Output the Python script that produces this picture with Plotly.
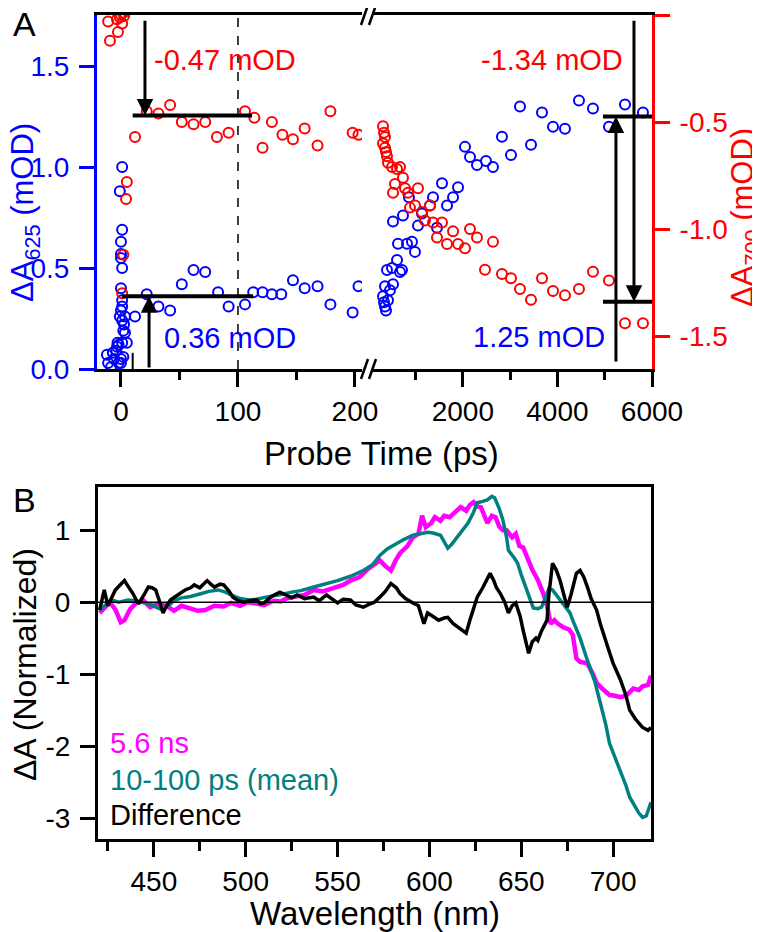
import plotly.graph_objects as go

# the page adds an 8px body margin, so the figure is drawn 8px smaller and offset
OFF = 8
W, H = 760 - OFF, 932 - OFF

# ---- panel A : kinetics, 0-200 ps segment ----
t_blue_early = [-12, -11, -8.5, -7, -6, -4, -3.4, -3, -2, -2, 0, 0, 1, 2, 2, 3.4, 2.6, -1, 3.4, 1, 1, 5,
                0, 1, 0, 1, 0, 0, 0, 1, -1, 1, 12,
                22, 32, 42, 52, 62, 72, 83, 92, 106, 113, 121, 129, 137, 147, 157, 168, 179, 198, 203]
a625_early = [0.07, 0.03, 0.01, 0.08, 0.05, 0.09, 0.11, 0.13, 0.12, 0.03, 0.03, 0.05, 0.13, 0.06, 0.19, 0.18, 0.22, 0.26, 0.26, 0.31, 0.24, 0.13,
              0.29, 0.34, 0.40, 0.50, 0.55, 0.57, 0.63, 0.69, 0.88, 1.00, 0.26,
              0.37, 0.31, 0.29, 0.42, 0.49, 0.48, 0.38, 0.31, 0.32, 0.38, 0.38, 0.37, 0.37, 0.44, 0.40, 0.41, 0.32, 0.28, 0.41]

t_red_early = [-11, -9.4, -3.4, -2.6, -1, 1, 2, 0, 2.6, 1, 2, 4.3, 5, 12,
               22, 32, 42, 52, 62, 72, 82, 92, 106, 114, 121, 129, 138, 147, 157, 168, 179, 198, 203]
a700_early = [-0.03, -0.12, -0.02, -0.08, -0.01, -0.04, 0.01, 0.0, -0.005, -1.30, -1.12, -0.86, -0.78, -0.57,
              -0.45, -0.46, -0.42, -0.50, -0.51, -0.50, -0.57, -0.55, -0.45, -0.48, -0.62, -0.50, -0.56, -0.58, -0.53, -0.61, -0.45, -0.55, -0.56]

# ---- panel A : kinetics, 200-6000 ps segment ----
t_blue_late = [313, 355, 355, 334, 376, 418, 460, 524, 397, 503, 609, 672, 714, 630, 820, 925, 989, 524, 735, 1052,
               1137, 1306, 1454, 1666, 1793, 862, 1370, 1560, 1899, 2046, 2152, 2300, 2490, 2638, 2828, 3019,
               3209, 3442, 3674, 3907, 4160, 4456, 4752, 5090, 5429, 5809]
a625_late = [0.36, 0.41, 0.31, 0.33, 0.29, 0.34, 0.39, 0.42, 0.49, 0.50, 0.54, 0.48, 0.49, 0.62, 0.62, 0.63, 0.58, 0.73, 0.76, 0.71,
             0.77, 0.81, 0.70, 0.81, 0.85, 0.85, 0.85, 0.92, 0.90, 1.10, 1.05, 1.01, 1.03, 1.00, 1.15, 1.06,
             1.30, 1.11, 1.27, 1.20, 1.19, 1.33, 1.29, 1.20, 1.31, 1.27]

t_red_late = [313, 334, 355, 313, 355, 376, 397, 418, 503, 609, 672, 735, 566, 524, 778, 841, 1052, 989, 883, 1137,
              1306, 1200, 1370, 1560, 1454, 1666, 1793, 1899, 2046, 2152, 2300, 2638, 2469, 2828, 3019, 3209,
              3442, 3674, 3907, 4160, 4456, 4752, 5090, 5429, 5809]
a700_late = [-0.52, -0.55, -0.57, -0.60, -0.62, -0.64, -0.66, -0.69, -0.71, -0.72, -0.71, -0.76, -0.79, -0.83, -0.81, -0.83, -0.81, -0.89, -0.90, -0.92,
             -0.89, -0.96, -0.97, -0.97, -1.04, -1.07, -1.01, -1.07, -1.09, -1.00, -1.04, -1.06, -1.19, -1.21, -1.23, -1.28,
             -1.33, -1.23, -1.29, -1.31, -1.28, -1.20, -1.24, -1.44, -1.44]

# ---- panel B : spectra ----
wl_56ns = [420.5, 423, 426, 429, 432, 434, 437, 440, 444, 448, 452, 457, 461, 465, 469, 474, 478, 483, 488, 492,
           497, 501, 506, 510, 515, 519, 522, 527, 532, 537, 542, 548, 553, 557, 562, 566, 570, 573, 576, 579,
           582, 584, 588, 591, 594, 596, 598, 601, 603, 606, 608, 611, 614, 617, 620, 622, 624, 626, 628, 630,
           631.5, 634, 636, 638, 640, 642, 645, 647, 649, 651, 653, 654, 656, 659, 661, 662, 664, 665, 666, 668,
           670, 673, 676, 678, 680, 682, 686, 689, 691, 694, 698, 701, 704, 707, 709, 711, 714, 716, 719, 720.6]
dA_56ns = [-0.15, -0.08, 0.0, -0.1, -0.28, -0.25, -0.1, -0.02, 0.03, -0.07, -0.02, -0.05, -0.12, -0.05, -0.08, -0.12, -0.11, -0.05, -0.06, -0.01,
           -0.05, 0.0, -0.02, -0.04, 0.02, 0.01, 0.05, 0.08, 0.1, 0.17, 0.15, 0.2, 0.24, 0.3, 0.35, 0.45, 0.52, 0.58, 0.5, 0.44,
           0.6, 0.68, 0.78, 0.9, 0.95, 1.2, 1.04, 1.1, 1.18, 1.13, 1.2, 1.18, 1.25, 1.32, 1.27, 1.35, 1.39, 1.33, 1.32, 1.2,
           1.1, 1.2, 1.18, 1.05, 1.0, 1.0, 0.9, 0.95, 0.78, 0.76, 0.62, 0.58, 0.45, 0.31, 0.2, 0.12, -0.05, -0.15, -0.3, -0.25,
           -0.3, -0.35, -0.38, -0.45, -0.78, -0.83, -0.85, -1.0, -1.12, -1.2, -1.29, -1.3, -1.32, -1.3, -1.25, -1.2, -1.22, -1.17, -1.15, -1.02]

wl_mean = [420.5, 423, 427, 431, 436, 440, 444, 448, 452, 455, 458, 461, 465, 470, 476, 480, 485, 489, 492, 497,
           502, 506, 511, 516, 520, 525, 530, 537, 543, 550, 557, 564, 569, 573, 577, 582, 586, 591, 595, 599,
           602, 606, 608, 610, 612, 615, 618, 621, 624, 626, 629, 631.5, 634, 635.5, 638, 640, 642, 643, 646, 648,
           650, 653, 655, 656.5, 659, 661, 663, 665, 667, 669, 671, 674, 676.5, 678, 682, 686, 690, 693, 696, 698,
           701, 704, 707, 709, 712, 714, 716, 718, 720.6]
dA_mean = [-0.11, -0.05, 0.03, 0.0, 0.03, 0.02, 0.0, -0.03, -0.08, -0.11, -0.05, 0.02, 0.06, 0.08, 0.12, 0.15, 0.17, 0.14, 0.1, 0.05,
           0.03, 0.04, 0.07, 0.09, 0.11, 0.14, 0.16, 0.21, 0.25, 0.3, 0.36, 0.44, 0.52, 0.65, 0.74, 0.82, 0.87, 0.93, 0.95, 0.97,
           0.96, 0.93, 0.84, 0.75, 0.8, 0.9, 1.0, 1.1, 1.25, 1.38, 1.4, 1.42, 1.47, 1.45, 1.3, 1.14, 0.9, 0.72, 0.62, 0.54,
           0.38, 0.17, 0.0, -0.08, -0.09, -0.07, 0.05, 0.19, 0.17, 0.1, 0.03, -0.07, -0.15, -0.25, -0.5, -0.81, -1.1, -1.4, -1.7, -1.96,
           -2.15, -2.33, -2.55, -2.71, -2.85, -2.93, -2.99, -2.97, -2.78]

wl_diff = [420.5, 422, 423, 425, 427, 429, 432, 434, 436, 438.6, 441, 442, 445, 447, 449, 451, 453, 455, 457, 459,
           463, 467, 470, 472, 475, 479, 481, 483, 486, 488, 491, 493, 496, 499, 502, 506, 508, 510, 514, 518.6,
           522, 525, 528, 532, 537, 540, 544, 547, 550, 553, 557, 560, 564, 567, 570, 573, 576, 579, 582, 584,
           587, 591, 594, 597, 599, 602, 605, 608, 610, 613, 616, 620, 622, 624, 626, 629, 631, 633, 635, 636.5,
           638.6, 641, 643, 645, 647, 649.5, 651, 653, 654, 656, 658, 659, 661, 664, 665, 667, 669, 671, 673, 675,
           677, 680, 682, 684, 686, 688, 691, 693, 697, 700, 704, 707, 709, 712, 716, 719, 720.6]
dA_diff = [-0.11, 0.05, 0.17, -0.05, 0.05, 0.17, 0.25, 0.3, 0.22, 0.12, 0.0, -0.01, 0.12, 0.21, 0.2, 0.17, 0.02, -0.15, -0.05, 0.03,
           0.1, 0.17, 0.2, 0.24, 0.2, 0.3, 0.25, 0.21, 0.25, 0.24, 0.15, 0.07, 0.02, 0.0, 0.02, 0.03, -0.02, -0.01, 0.08, 0.14,
           0.1, 0.06, 0.1, 0.05, 0.07, 0.02, 0.1, 0.05, -0.01, 0.04, 0.03, -0.04, -0.07, -0.03, 0.0, 0.07, 0.15, 0.26, 0.2, 0.12,
           0.05, -0.01, -0.05, -0.3, -0.15, -0.2, -0.25, -0.22, -0.21, -0.3, -0.35, -0.43, -0.25, -0.1, 0.07, 0.2, 0.3, 0.4, 0.3, 0.2,
           0.12, 0.0, -0.15, -0.05, -0.01, -0.21, -0.39, -0.6, -0.71, -0.55, -0.5, -0.53, -0.4, -0.25, 0.1, 0.54, 0.45, 0.31, 0.1, -0.07,
           0.1, 0.4, 0.44, 0.35, 0.21, 0.05, -0.11, -0.3, -0.62, -0.85, -1.08, -1.3, -1.5, -1.62, -1.74, -1.78, -1.74]

BLUE = "#0000ff"
RED = "#ff0000"
FONT = "Liberation Sans, Arial, sans-serif"


def fx(p):
    return (p - OFF) / W


def fy(p):
    return 1 - (p - OFF) / H


fig = go.Figure()

mk_blue = dict(symbol="circle-open", size=10, color=BLUE, line=dict(width=2, color=BLUE))
mk_red = dict(symbol="circle-open", size=10, color=RED, line=dict(width=2, color=RED))

fig.add_trace(go.Scatter(x=t_red_early, y=a700_early, mode="markers", marker=mk_red, xaxis="x", yaxis="y2"))
fig.add_trace(go.Scatter(x=t_red_late, y=a700_late, mode="markers", marker=mk_red, xaxis="x2", yaxis="y2"))
fig.add_trace(go.Scatter(x=t_blue_early, y=a625_early, mode="markers", marker=mk_blue, xaxis="x", yaxis="y"))
fig.add_trace(go.Scatter(x=t_blue_late, y=a625_late, mode="markers", marker=mk_blue, xaxis="x2", yaxis="y"))

fig.add_trace(go.Scatter(x=wl_56ns, y=dA_56ns, mode="lines", line=dict(color="#ff00ff", width=4.5), xaxis="x3", yaxis="y3"))
fig.add_trace(go.Scatter(x=wl_mean, y=dA_mean, mode="lines", line=dict(color="#008080", width=3.5), xaxis="x3", yaxis="y3"))
fig.add_trace(go.Scatter(x=wl_diff, y=dA_diff, mode="lines", line=dict(color="black", width=3.5), xaxis="x3", yaxis="y3"))

tickfont = dict(family=FONT, size=28, color="black")
ax_common = dict(showgrid=False, zeroline=False, showline=True, linewidth=3, ticks="outside",
                 ticklen=15, tickwidth=3)

fig.update_layout(
    width=W, height=H,
    margin=dict(l=0, r=0, t=0, b=0, autoexpand=False),
    paper_bgcolor="white", plot_bgcolor="rgba(0,0,0,0)",
    showlegend=False,
    font=dict(family=FONT, size=28, color="black"),
    xaxis=dict(domain=[fx(97), fx(362)], range=[-20.5, 206], anchor="y", linecolor="black", mirror=True,
               tickvals=[0, 100, 200], tickcolor="black", tickfont=tickfont,
               minor=dict(tickvals=[50, 150], ticklen=8, tickwidth=3, tickcolor="black"), **ax_common),
    xaxis2=dict(domain=[fx(372), fx(652)], range=[80, 6000], anchor="y", linecolor="black", mirror=True,
                tickvals=[2000, 4000, 6000], tickcolor="black", tickfont=tickfont,
                minor=dict(tickvals=[1000, 3000, 5000], ticklen=8, tickwidth=3, tickcolor="black"), **ax_common),
    yaxis=dict(domain=[fy(369), fy(15)], range=[0, 1.753], anchor="x", linecolor=BLUE, tickcolor=BLUE,
               tickvals=[0, 0.5, 1.0, 1.5], ticktext=["0.0", "0.5", "1.0", "1.5"], ticklabelstandoff=4,
               tickfont=dict(family=FONT, size=28, color=BLUE), **ax_common),
    yaxis2=dict(range=[-1.654, 0], overlaying="y", anchor="x2", side="right", linecolor=RED, tickcolor=RED,
                tickvals=[-1.5, -1.0, -0.5, 0.0], ticktext=["-1.5", "-1.0", "-0.5", "0.0"], ticklabelstandoff=4,
                tickfont=dict(family=FONT, size=28, color=RED), **ax_common),
    xaxis3=dict(domain=[fx(98), fx(651)], range=[419.6, 720.6], anchor="y3", linecolor="black", mirror=True,
                tickvals=[450, 500, 550, 600, 650, 700], tickcolor="black", tickfont=tickfont,
                minor=dict(tickvals=[425, 475, 525, 575, 625, 675], ticklen=9, tickwidth=3, tickcolor="black"),
                **ax_common),
    yaxis3=dict(domain=[fy(839), fy(487)], range=[-3.29, 1.6], anchor="x3", linecolor="black", mirror=True,
                tickvals=[-3, -2, -1, 0, 1], ticktext=["-3", "-2", "-1", "0", "1"], tickcolor="black",
                ticklabelstandoff=4, tickfont=tickfont, **ax_common),
)

shapes = []
# dashed line at 100 ps, small marker at 10 ps
shapes.append(dict(type="line", xref="x", yref="y domain", x0=100, x1=100, y0=0, y1=1,
                   line=dict(color="black", width=1.5, dash="dash")))
shapes.append(dict(type="line", xref="x", yref="y", x0=10, x1=10, y0=0, y1=0.08, line=dict(color="black", width=2)))
# level bars
shapes.append(dict(type="line", xref="x", yref="y2", x0=10, x1=112, y0=-0.47, y1=-0.47, line=dict(color="black", width=4)))
shapes.append(dict(type="line", xref="x", yref="y", x0=1, x1=113, y0=0.36, y1=0.36, line=dict(color="black", width=4)))
shapes.append(dict(type="line", xref="x2", yref="y", x0=4964, x1=6000, y0=1.25, y1=1.25, line=dict(color="black", width=4)))
shapes.append(dict(type="line", xref="x2", yref="y2", x0=4964, x1=6000, y0=-1.34, y1=-1.34, line=dict(color="black", width=4)))
# axis break marks
for yb in (15, 369):
    for xb in (361, 369):
        shapes.append(dict(type="line", xref="paper", yref="paper", x0=fx(xb), x1=fx(xb + 7),
                           y0=fy(yb + 10), y1=fy(yb - 10), line=dict(color="black", width=2.5)))
# zero line in B
shapes.append(dict(type="line", xref="x3 domain", yref="y3", x0=0, x1=1, y0=0, y1=0, line=dict(color="black", width=1.5)))
fig.update_layout(shapes=shapes)

ann = []
arrow = dict(text="", showarrow=True, arrowhead=2, arrowsize=1.1, arrowwidth=3, arrowcolor="black")
ann.append(dict(x=20.5, y=-0.47, ax=20.5, ay=-0.02, xref="x", yref="y2", axref="x", ayref="y2", **arrow))
ann.append(dict(x=24, y=0.36, ax=24, ay=0.0, xref="x", yref="y", axref="x", ayref="y", **arrow))
ann.append(dict(x=5238, y=1.25, ax=5238, ay=0.03, xref="x2", yref="y", axref="x2", ayref="y", **arrow))
ann.append(dict(x=5619, y=-1.34, ax=5619, ay=-0.02, xref="x2", yref="y2", axref="x2", ayref="y2", **arrow))


def label(txt, x, y, color="black", size=28, xanchor="center", angle=0):
    ann.append(dict(text=txt, x=fx(x), y=fy(y), xref="paper", yref="paper", showarrow=False,
                    xanchor=xanchor, yanchor="middle", textangle=angle,
                    font=dict(family=FONT, size=size, color=color)))


label("-0.47 mOD", 152, 60, RED, 29, "left")
label("0.36 mOD", 162, 338, BLUE, 29, "left")
label("-1.34 mOD", 625, 60, RED, 29, "right")
label("1.25 mOD", 607, 337, BLUE, 29, "right")
label("A", 24, 24, size=34)
label("B", 24, 500, size=34)
label("Probe Time (ps)", 381, 453, size=33)
label("ΔA<sub>625</sub> (mOD)", 25, 213, BLUE, 31, angle=-90)
label("ΔA<sub>700</sub> (mOD)", 745, 218, RED, 31, angle=-90)
label("5.6 ns", 108, 743, "#ff00ff", 29, "left")
label("10-100 ps (mean)", 108, 780, "#008080", 29, "left")
label("Difference", 108, 815, "black", 29, "left")
label("Wavelength (nm)", 375, 913, size=33)
label("ΔA (Normalized)", 25, 665, size=32, angle=-90)
fig.update_layout(annotations=ann)

fig.write_html("out.html")
